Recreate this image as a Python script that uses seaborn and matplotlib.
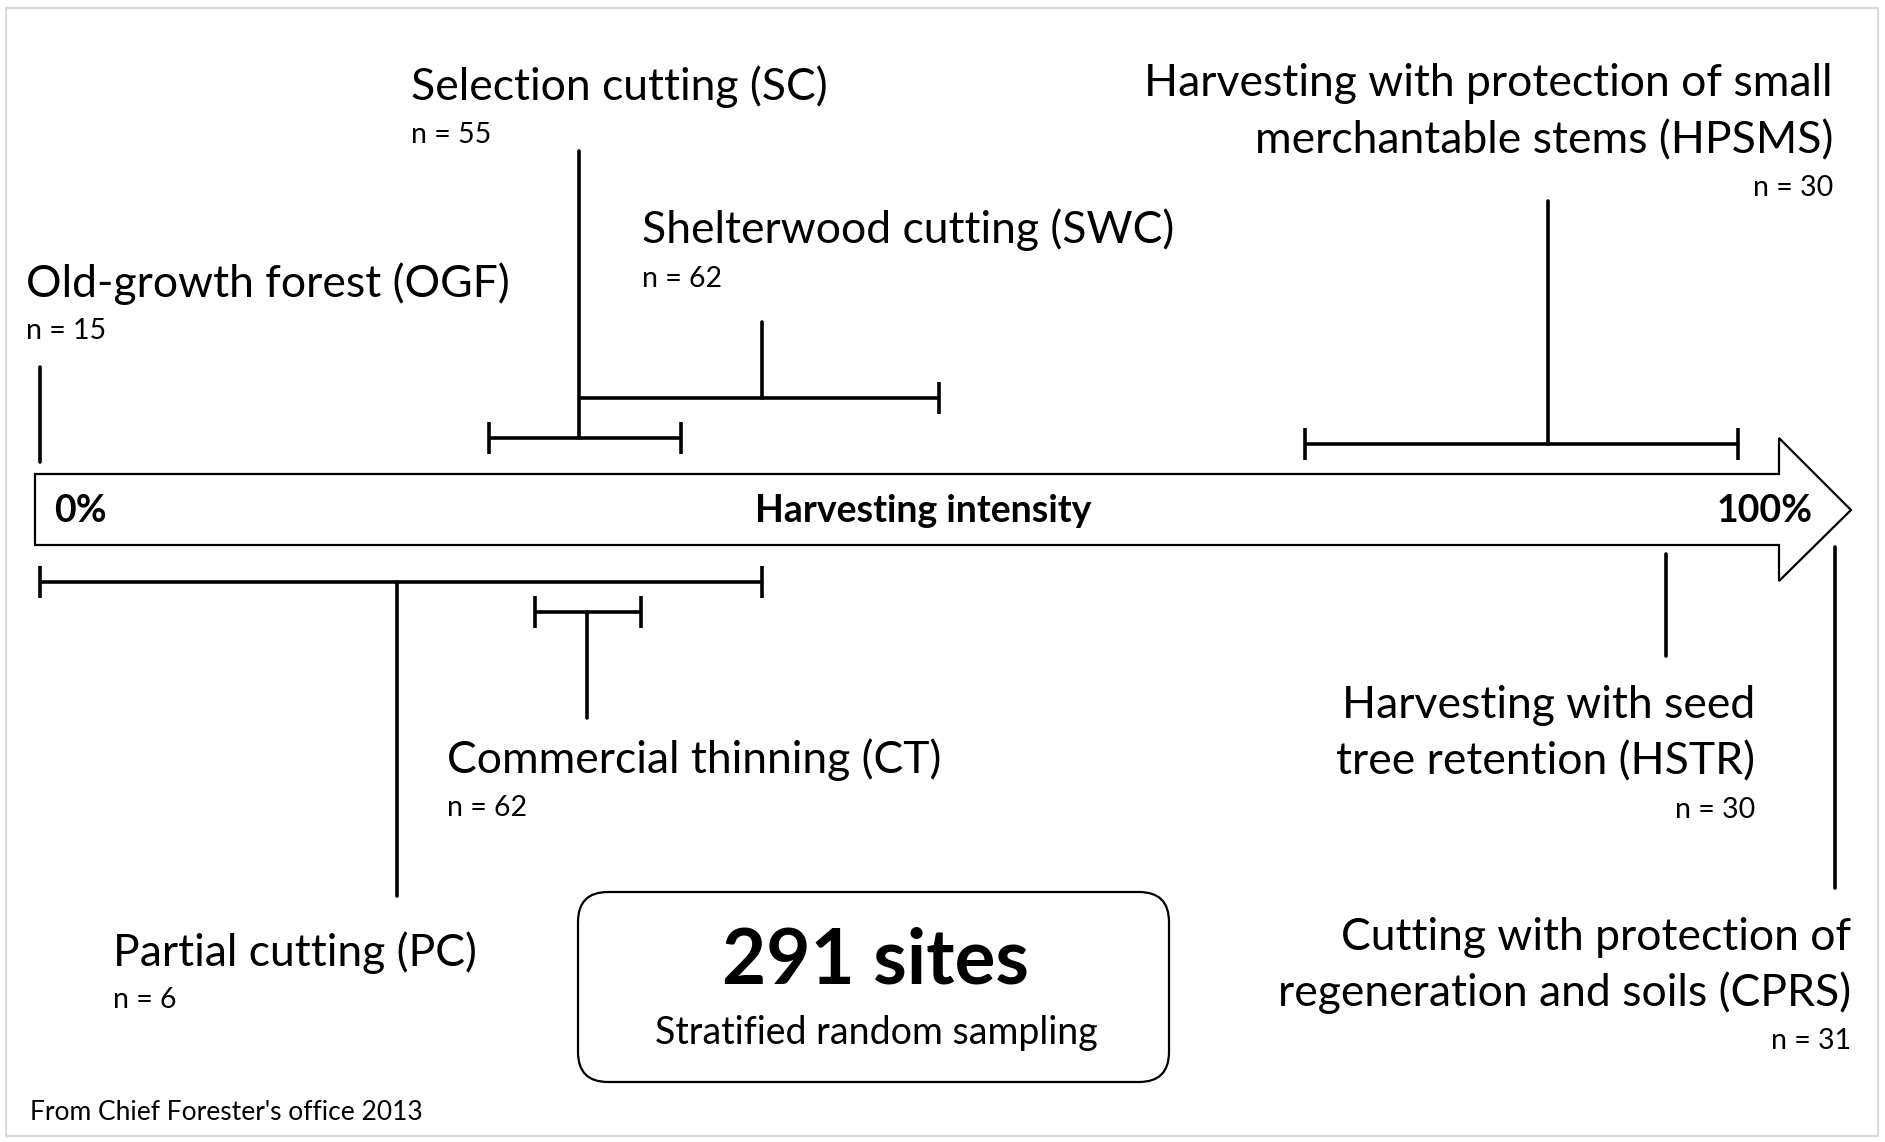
import matplotlib
matplotlib.use("Agg")
import matplotlib.pyplot as plt
from matplotlib.patches import Polygon, FancyBboxPatch, Rectangle
import seaborn as sns
import pandas as pd

# ---- data: harvesting intensity (%) ----
treatments = ["OGF", "SC", "SWC", "HPSMS", "PC", "CT", "HSTR", "CPRS"]
labels = ["Old-growth forest (OGF)", "Selection cutting (SC)", "Shelterwood cutting (SWC)",
          "Harvesting with protection of small\nmerchantable stems (HPSMS)",
          "Partial cutting (PC)", "Commercial thinning (CT)",
          "Harvesting with seed\ntree retention (HSTR)",
          "Cutting with protection of\nregeneration and soils (CPRS)"]
n_sites = [15, 55, 62, 30, 6, 62, 30, 31]
center = [0.0, 30.0, 40.2, 84.0, 19.9, 30.5, 90.6, 100.0]
low = [None, 25.0, 30.0, 70.5, 0.0, 27.6, None, None]
high = [None, 35.7, 50.1, 94.6, 40.2, 33.5, None, None]
total_sites = 291

# ---- layout (pixel rows, top = 0) ----
W, H = 1885, 1142
PX0, PXW = 40.0, 17.95          # pixel of 0 %, pixels per 1 %
stem_top = [367, 151, 322, 201, 896, 718, 656, 888]
stem_bot = [462, 438, 398, 444, 582, 612, 554, 547]
bar_y = [None, 438, 398, 444, 582, 612, None, None]
caps = {"SC": (True, True), "SWC": (False, True), "HPSMS": (True, True),
        "PC": (True, True), "CT": (True, True)}
# text anchor: pixel x, centre y of each title line, n centre y, alignment
txt = {
    "OGF": (26, [284], 331, "left"),
    "SC": (411, [87], 135, "left"),
    "SWC": (642, [230], 279, "left"),
    "HPSMS": (1833, [84, 141], 188, "right"),
    "PC": (113, [953], 1000, "left"),
    "CT": (447, [760], 808, "left"),
    "HSTR": (1755, [706, 762], 810, "right"),
    "CPRS": (1851, [937, 993], 1041, "right"),
}

sns.set_theme(style="white")
plt.rcParams["font.family"] = ["Lato", "DejaVu Sans"]
plt.rcParams["text.color"] = "black"

fig = plt.figure(figsize=(W / 100, H / 100), dpi=100)
# layout axes in pixel units
lay = fig.add_axes([0, 0, 1, 1])
lay.set_xlim(0, W)
lay.set_ylim(H, 0)
lay.axis("off")
# data axes: x in harvesting intensity (%)
ax = fig.add_axes([0, 0, 1, 1], facecolor="none")

# outer light frame
lay.add_patch(Rectangle((6, 8), 1872, 1128, fill=False, edgecolor="#d9d9d9", lw=1.5))

# big arrow
arrow = [(35, 474), (1779, 474), (1779, 438), (1851, 510),
         (1779, 581), (1779, 545), (35, 545)]
lay.add_patch(Polygon(arrow, closed=True, facecolor="white", edgecolor="black", lw=1.6,
                      joinstyle="miter"))
lay.text(54, 511, "0%", fontsize=27, fontweight="bold", ha="left", va="center")
lay.text(923, 511, "Harvesting intensity", fontsize=27, fontweight="bold",
         ha="center", va="center")
lay.text(1813, 511, "100%", fontsize=27, fontweight="bold", ha="right", va="center")

# stems drawn with seaborn
rows = []
for i, t in enumerate(treatments):
    rows.append({"t": t, "x": center[i], "y": stem_top[i]})
    rows.append({"t": t, "x": center[i], "y": stem_bot[i]})
df = pd.DataFrame(rows)
sns.lineplot(data=df, x="x", y="y", units="t", estimator=None, sort=False,
             color="black", lw=2.6, ax=ax, legend=False)

# range bars
for i, t in enumerate(treatments):
    if low[i] is None:
        continue
    y = bar_y[i]
    lo = low[i] if t != "SWC" else center[1]
    ax.plot([lo, high[i]], [y, y], color="black", lw=2.6, solid_capstyle="butt")
    lcap, rcap = caps[t]
    if lcap:
        ax.plot([low[i], low[i]], [y - 16, y + 16], color="black", lw=2.6,
                solid_capstyle="butt")
    if rcap:
        ax.plot([high[i], high[i]], [y - 16, y + 16], color="black", lw=2.6,
                solid_capstyle="butt")

ax.set_xlim(-PX0 / PXW, (W - PX0) / PXW)
ax.set_ylim(H, 0)
ax.axis("off")

# labels
for i, t in enumerate(treatments):
    x, ys, ny, al = txt[t]
    for line, yy in zip(labels[i].split("\n"), ys):
        lay.text(x, yy, line, fontsize=32, ha=al, va="center")
    lay.text(x, ny, f"n = {n_sites[i]}", fontsize=20.5, ha=al, va="center")

# sites box
lay.add_patch(FancyBboxPatch((578, 892), 1169 - 578, 190,
                             boxstyle="round,pad=0,rounding_size=30",
                             facecolor="white", edgecolor="black", lw=1.6))
lay.text(876, 962, f"{total_sites} sites", fontsize=55, fontweight="bold",
         ha="center", va="center")
lay.text(876, 1033, "Stratified random sampling", fontsize=27,
         ha="center", va="center")

lay.text(30, 1113, "From Chief Forester's office 2013", fontsize=19,
         ha="left", va="center")

fig.savefig("out.png", dpi=100)
